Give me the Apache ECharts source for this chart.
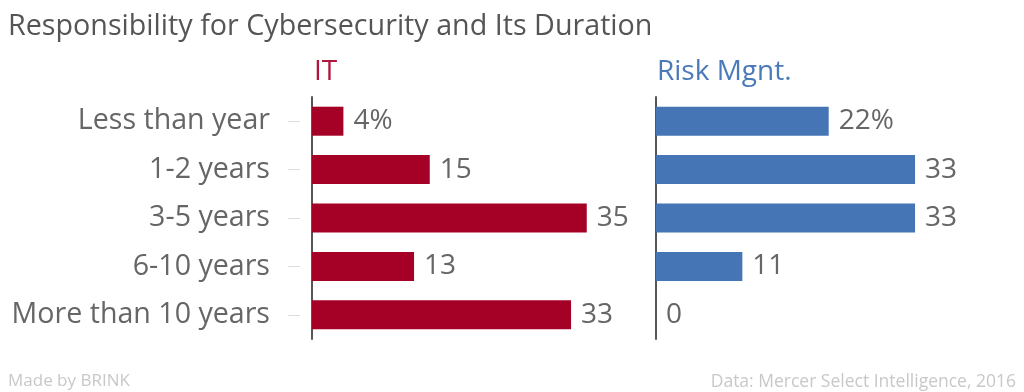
<!DOCTYPE html>
<html>
<head>
<meta charset="utf-8">
<script src="https://cdn.jsdelivr.net/npm/echarts@6/dist/echarts.min.js"></script>
<style>
html,body{margin:0;padding:0;background:#fff;}
#c{width:1024px;height:392px;}
</style>
</head>
<body>
<div id="c"></div>
<script>
const categories = ["Less than year", "1-2 years", "3-5 years", "6-10 years", "More than 10 years"];
const itValues = [4, 15, 35, 13, 33];
const riskValues = [22, 33, 33, 11, 0];
const titleText = "Responsibility for Cybersecurity and Its Duration";
const panelNames = ["IT", "Risk Mgnt."];
const footerLeft = "Made by BRINK";
const footerRight = "Data: Mercer Select Intelligence, 2016";

const FONT = "'Open Sans', sans-serif";
const RED = "#a50026";
const BLUE = "#4575b4";
const chart = echarts.init(document.getElementById('c'), null, {renderer: 'canvas'});

const labelFmt = p => p.dataIndex === 0 ? p.value + '%' : String(p.value);

function lineAxis(grid) {
  return {
    type: 'category', gridIndex: grid, data: categories, inverse: true, position: 'left',
    axisLine: {show: true, lineStyle: {color: '#555', width: 2}},
    axisTick: {show: false}, axisLabel: {show: false}, splitLine: {show: false}
  };
}

chart.setOption({
  animation: false,
  textStyle: {fontFamily: FONT},
  title: [
    {text: titleText, left: 3, top: 7, textStyle: {fontFamily: FONT, fontSize: 28.7, fontWeight: 'normal', color: '#555'}},
    {text: panelNames[0], left: 309, top: 53, textStyle: {fontFamily: FONT, fontSize: 28, fontWeight: 'normal', color: '#b0173e'}},
    {text: panelNames[1], left: 652, top: 53, textStyle: {fontFamily: FONT, fontSize: 28, fontWeight: 'normal', color: '#4a7ab8'}},
    {text: footerLeft, left: 3, top: 368, textStyle: {fontFamily: FONT, fontSize: 17, fontWeight: 'normal', color: '#c8c8c8'}},
    {text: footerRight, right: 3, top: 368, textStyle: {fontFamily: FONT, fontSize: 17.5, fontWeight: 'normal', color: '#c8c8c8'}}
  ],
  grid: [
    {left: 312, top: 97, height: 242, width: 314},
    {left: 656, top: 97, height: 242, width: 314}
  ],
  xAxis: [
    {type: 'value', gridIndex: 0, min: 0, max: 40, show: false},
    {type: 'value', gridIndex: 1, min: 0, max: 40, show: false}
  ],
  yAxis: [
    lineAxis(0),
    lineAxis(1),
    {
      type: 'category', gridIndex: 0, data: categories, inverse: true, position: 'left', offset: 12,
      axisLine: {show: false},
      axisTick: {show: true, alignWithLabel: true, length: 12, lineStyle: {color: '#ddd', width: 1}},
      axisLabel: {show: true, margin: 30, fontSize: 28.6, color: '#666', fontFamily: FONT},
      splitLine: {show: false}
    }
  ],
  series: [
    {
      type: 'bar', xAxisIndex: 0, yAxisIndex: 0, data: itValues, barWidth: 29,
      itemStyle: {color: RED},
      label: {show: true, position: 'right', distance: 10, fontSize: 28, color: '#666', fontFamily: FONT, formatter: labelFmt}
    },
    {
      type: 'bar', xAxisIndex: 1, yAxisIndex: 1, data: riskValues, barWidth: 29,
      itemStyle: {color: BLUE},
      label: {show: true, position: 'right', distance: 10, fontSize: 28, color: '#666', fontFamily: FONT, formatter: labelFmt}
    }
  ]
});
</script>
</body>
</html>
